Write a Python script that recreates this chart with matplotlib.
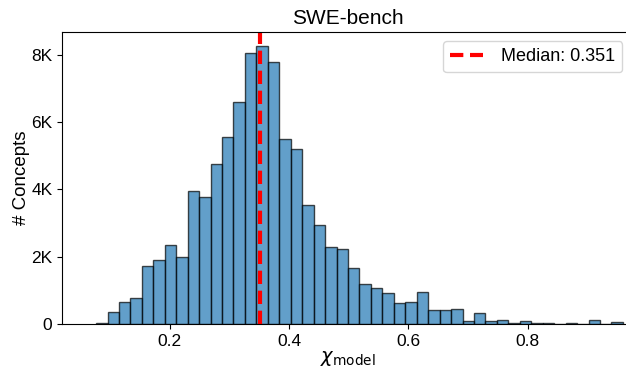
import numpy as np
import matplotlib
matplotlib.use('Agg')
import matplotlib.pyplot as plt
from matplotlib.ticker import FuncFormatter

plt.rcParams['font.family'] = ['Liberation Sans', 'DejaVu Sans']

# histogram: first bin edge, bin width, counts per bin
bin_start = 0.0765
bin_width = 0.0192
counts = [40, 350, 640, 780, 1720, 1900, 2360, 1980, 3970, 3770,
          4770, 5570, 6600, 8050, 8270, 7780, 5510, 5210, 3540, 2930,
          2280, 2230, 1680, 1180, 1060, 910, 620, 660, 950, 420,
          430, 440, 80, 340, 90, 130, 40, 90, 20, 20,
          10, 30, 10, 110, 5, 60]
median = 0.351

edges = bin_start + bin_width * np.arange(len(counts) + 1)
centers = (edges[:-1] + edges[1:]) / 2

fig = plt.figure(figsize=(6.26, 3.69), dpi=100)
ax = fig.add_axes([62 / 626, 1 - 324 / 369, (633 - 62) / 626, (324 - 32) / 369])

ax.hist(centers, bins=edges, weights=counts, color='#1f77b4', alpha=0.7,
        edgecolor='black', linewidth=1)
ax.axvline(median, color='red', linestyle=(0, (3.2, 1.6)), linewidth=3,
           label=f'Median: {median}')

ax.set_xlim(0.0194, 0.9767)
ax.set_title('SWE-bench', fontsize=15)
ax.set_xlabel(r'$\chi_{\mathrm{model}}$', fontsize=14, labelpad=0.5)
ax.set_ylabel('# Concepts', fontsize=13.5, labelpad=1)
ax.set_xticks([0.2, 0.4, 0.6, 0.8])
ax.set_yticks([0, 2000, 4000, 6000, 8000])
ax.yaxis.set_major_formatter(FuncFormatter(lambda v, p: '0' if v == 0 else f'{int(v / 1000)}K'))
ax.tick_params(labelsize=12.5)
ax.legend(loc='upper right', fontsize=13, bbox_to_anchor=(0.997, 1.0),
          borderaxespad=0.5, handlelength=1.8, handletextpad=1.0)

fig.savefig('out.png', dpi=100)
